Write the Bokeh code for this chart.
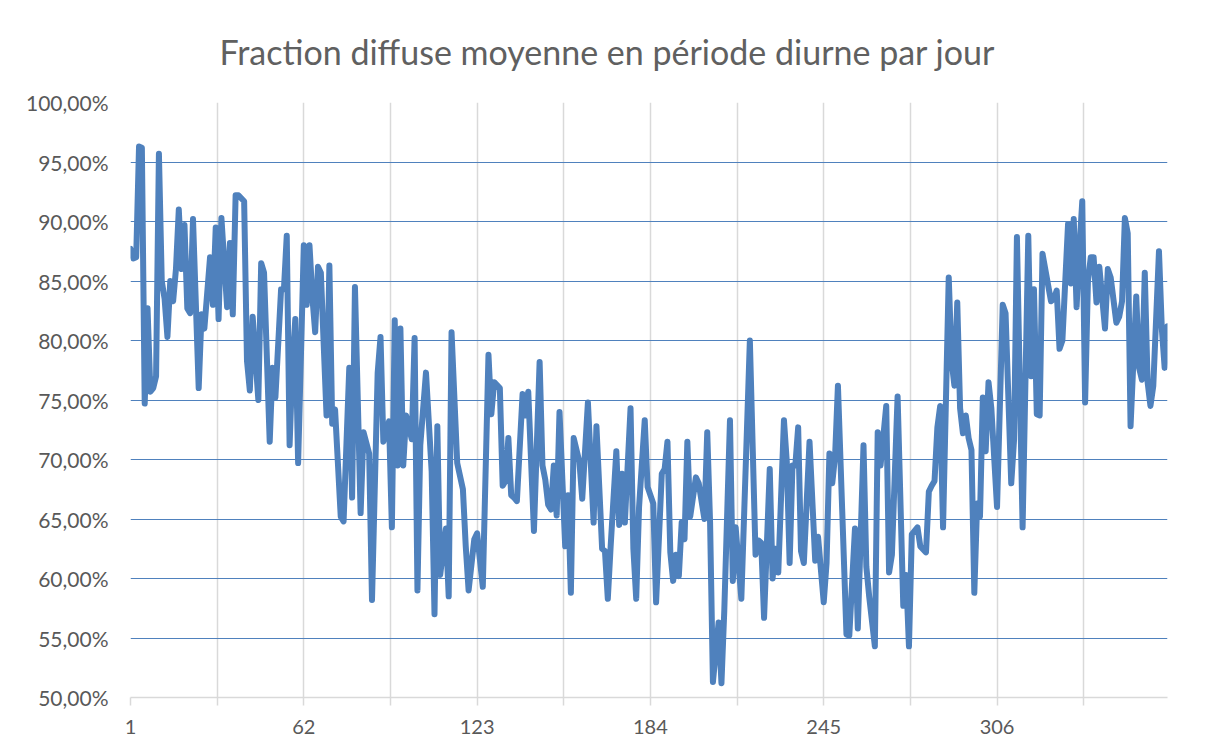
from bokeh.plotting import figure
from bokeh.models import FixedTicker, Range1d, ColumnDataSource
from bokeh.embed import file_html
from bokeh.resources import INLINE

title_text = "Fraction diffuse moyenne en période diurne par jour"

days = [1, 2, 3, 4, 5, 6, 7, 8, 9, 10, 11, 12, 13, 14, 15, 16, 17, 18, 19, 20,
        21, 22, 23, 25, 26, 27, 29, 30, 31, 32, 33, 35, 36, 37, 38, 39, 41, 42, 43, 44,
        46, 47, 48, 50, 51, 52, 54, 55, 56, 57, 58, 59, 60, 62, 63, 64, 65, 66, 67, 68,
        70, 71, 72, 73, 75, 76, 78, 79, 80, 82, 83, 85, 86, 88, 89, 90, 92, 93, 94, 95,
        96, 97, 98, 100, 101, 102, 103, 105, 107, 108, 109, 110, 112, 113, 114, 116, 118, 119, 120, 122,
        123, 125, 127, 128, 129, 131, 132, 133, 134, 135, 136, 137, 139, 140, 141, 143, 145, 146, 147, 148,
        149, 150, 151, 152, 154, 155, 156, 157, 159, 160, 162, 164, 165, 167, 168, 169, 170, 172, 173, 174,
        175, 177, 178, 179, 180, 182, 183, 185, 186, 188, 189, 190, 191, 192, 193, 194, 195, 196, 197, 198,
        200, 201, 203, 204, 205, 206, 208, 209, 210, 212, 213, 214, 216, 218, 219, 221, 222, 223, 224, 226,
        227, 228, 229, 231, 232, 233, 234, 235, 236, 237, 238, 240, 242, 243, 245, 246, 247, 248, 249, 250,
        253, 254, 256, 257, 259, 260, 261, 263, 264, 265, 267, 268, 269, 271, 273, 274, 275, 276, 277, 278,
        279, 281, 282, 283, 284, 285, 286, 287, 289, 290, 291, 292, 293, 294, 295, 296, 297, 298, 299, 300,
        301, 302, 303, 304, 306, 308, 309, 311, 312, 313, 315, 317, 318, 319, 320, 321, 322, 325, 326, 327,
        328, 329, 331, 332, 333, 334, 335, 336, 337, 338, 339, 340, 341, 342, 344, 345, 346, 348, 349, 350,
        351, 352, 353, 355, 356, 357, 358, 359, 360, 361, 363, 364, 365, 366]

values = [87.7, 86.9, 87.0, 96.3, 96.2, 74.7, 82.7, 75.7, 76.0, 77.0, 95.7, 85.0, 83.5, 80.3, 85.0, 83.3, 86.0, 91.0, 86.0, 89.7,
          82.7, 82.3, 90.2, 76.0, 82.2, 81.0, 87.0, 83.0, 89.5, 81.8, 90.3, 82.8, 88.2, 82.2, 92.2, 92.2, 91.7, 78.3, 75.8, 82.0,
          75.0, 86.5, 85.7, 71.5, 77.7, 75.2, 84.3, 84.3, 88.8, 71.2, 78.0, 81.8, 69.7, 88.0, 83.0, 88.0, 83.7, 80.7, 86.2, 85.7,
          73.7, 86.3, 73.0, 74.2, 65.2, 64.8, 77.7, 66.8, 84.5, 65.5, 72.3, 70.5, 58.2, 77.3, 80.3, 71.5, 73.2, 64.3, 81.7, 69.5,
          81.0, 69.5, 73.7, 71.7, 80.2, 59.0, 71.2, 77.3, 69.0, 57.0, 72.8, 60.3, 64.2, 58.5, 80.7, 69.7, 67.5, 62.7, 59.0, 63.3,
          63.8, 59.3, 78.8, 73.8, 76.5, 76.0, 67.8, 68.2, 71.8, 67.0, 66.8, 66.5, 75.5, 73.7, 75.7, 64.0, 78.2, 69.5, 68.3, 66.2,
          65.8, 69.5, 65.3, 74.0, 62.7, 67.0, 58.8, 71.8, 69.8, 66.7, 74.8, 64.7, 72.8, 62.5, 62.3, 58.3, 62.7, 70.7, 64.5, 68.8,
          64.7, 74.3, 62.5, 58.3, 66.0, 73.3, 67.7, 66.3, 58.0, 68.8, 69.2, 71.5, 62.2, 59.8, 62.0, 60.2, 64.7, 63.3, 71.5, 65.2,
          68.5, 68.0, 65.0, 72.3, 64.7, 51.3, 56.3, 51.2, 57.3, 73.3, 59.8, 64.3, 58.3, 72.7, 80.0, 62.0, 63.2, 63.0, 56.7, 69.2,
          60.0, 62.5, 60.5, 73.3, 69.8, 61.3, 69.5, 69.5, 72.7, 62.3, 61.3, 71.5, 61.5, 63.5, 58.0, 61.3, 70.5, 68.0, 70.3, 76.2,
          55.3, 55.2, 64.2, 55.8, 71.2, 61.0, 58.5, 54.3, 72.3, 69.5, 74.5, 60.5, 62.0, 75.3, 57.7, 60.3, 54.3, 63.7, 64.0, 64.3,
          62.7, 62.2, 67.3, 67.8, 68.2, 72.7, 74.5, 64.3, 85.3, 78.3, 76.2, 83.2, 74.3, 72.2, 73.7, 71.8, 70.8, 58.8, 66.3, 65.2,
          75.2, 70.7, 76.5, 74.3, 66.0, 83.0, 82.3, 68.0, 71.7, 88.7, 64.3, 88.8, 77.0, 84.3, 73.8, 73.7, 87.3, 83.3, 83.5, 84.2,
          79.3, 80.0, 89.8, 84.8, 90.2, 82.8, 87.7, 91.7, 74.8, 85.0, 87.0, 87.0, 83.2, 86.2, 81.0, 86.0, 85.3, 81.5, 82.0, 83.3,
          90.3, 89.0, 72.8, 83.7, 77.7, 76.7, 85.7, 76.5, 74.5, 76.2, 87.5, 81.0, 77.7, 81.2]

x_tick_labels = [1, 62, 123, 184, 245, 306]
x_minor = [31.5, 92.5, 153.5, 214.5, 275.5, 336.5]
y_ticks = [50, 55, 60, 65, 70, 75, 80, 85, 90, 95, 100]

FONT = "Lato"
TXT = "#595959"
GRID_GRAY = "#D9D9D9"
BLUE = "#4F81BD"

p = figure(width=1205, height=750, output_backend="svg", toolbar_location=None,
           x_range=Range1d(1, 366), y_range=Range1d(50, 100),
           min_border_left=130, min_border_right=38, min_border_top=102, min_border_bottom=53)
p.outline_line_color = None
p.background_fill_color = "white"
p.border_fill_color = "white"

p.title.text = title_text
p.title.align = "left"
p.title.offset = 89
p.title.text_font = FONT
p.title.text_font_size = "34px"
p.title.text_font_style = "normal"
p.title.text_color = "#606060"
p.title.standoff = 58
p.title.vertical_align = "top"

# grids
p.xgrid.ticker = FixedTicker(ticks=sorted(x_tick_labels + x_minor + [366]))
p.xgrid.grid_line_color = GRID_GRAY
p.xgrid.grid_line_width = 1.5
p.ygrid.ticker = FixedTicker(ticks=y_ticks[1:])
p.ygrid.grid_line_color = BLUE
p.ygrid.grid_line_width = 1.2

# x axis
xa = p.xaxis[0]
xa.ticker = FixedTicker(ticks=x_tick_labels, minor_ticks=x_minor)
xa.axis_line_color = GRID_GRAY
xa.axis_line_width = 1.5
xa.major_tick_line_color = GRID_GRAY
xa.minor_tick_line_color = GRID_GRAY
xa.major_tick_line_width = 1.5
xa.minor_tick_line_width = 1.5
xa.major_tick_out = 8
xa.major_tick_in = 0
xa.minor_tick_out = 8
xa.minor_tick_in = 0
xa.major_label_text_font = FONT
xa.major_label_text_font_size = "20px"
xa.major_label_text_color = TXT
xa.major_label_standoff = 14

# y axis
ya = p.yaxis[0]
ya.ticker = FixedTicker(ticks=y_ticks)
ya.major_label_overrides = {v: f"{v},00%" for v in y_ticks}
ya.axis_line_color = None
ya.major_tick_line_color = None
ya.minor_tick_line_color = None
ya.major_tick_out = 0
ya.major_tick_in = 0
ya.major_label_text_font = FONT
ya.major_label_text_font_size = "21px"
ya.major_label_text_color = TXT
ya.major_label_standoff = 22

src = ColumnDataSource(data=dict(day=days, val=values))
p.line("day", "val", source=src, line_width=6, line_color=BLUE,
       line_cap="round", line_join="round")

open("out.html", "w").write(file_html(p, INLINE))
